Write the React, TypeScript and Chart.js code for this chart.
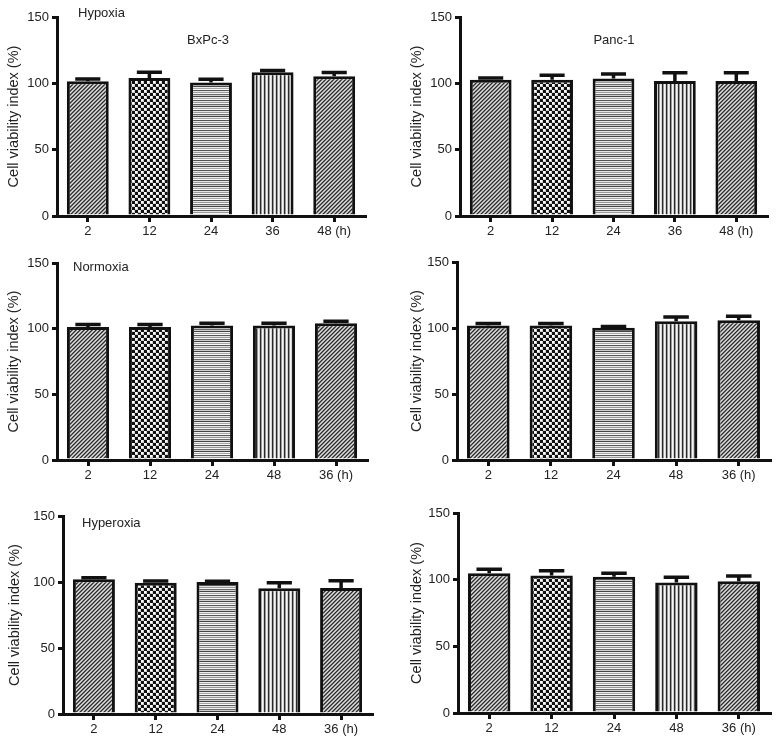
import React, { useEffect, useRef } from "react";
import { Chart, registerables } from "chart.js";
Chart.register(...registerables);

// ---------- data ----------
const labelsTop = ["2", "12", "24", "36", "48 (h)"];
const labelsLower = ["2", "12", "24", "48", "36 (h)"];

const hypoxiaBxPc3 = [101.6, 104.1, 100.6, 108.4, 105.3];
const hypoxiaBxPc3Err = [1.7, 4.3, 2.4, 1.2, 2.8];
const hypoxiaPanc1 = [102.7, 102.7, 103.7, 101.7, 101.7];
const hypoxiaPanc1Err = [1.3, 3.3, 3.3, 6.3, 6.3];

const normoxiaBxPc3 = [101.3, 101.3, 102.4, 102.4, 104.1];
const normoxiaBxPc3Err = [1.8, 1.8, 1.7, 1.7, 1.5];
const normoxiaPanc1 = [101.8, 101.8, 100.1, 105.1, 105.9];
const normoxiaPanc1Err = [1.6, 1.6, 1.0, 3.3, 3.0];

const hyperoxiaBxPc3 = [102.0, 99.5, 100.0, 95.2, 95.5];
const hyperoxiaBxPc3Err = [1.3, 1.3, 0.5, 4.3, 5.5];
const hyperoxiaPanc1 = [104.8, 103.1, 102.1, 97.8, 98.8];
const hyperoxiaPanc1Err = [3.1, 3.5, 2.7, 4.0, 4.0];

const yTitle = "Cell viability index (%)";
const patternOrder = ["diag", "dots", "hstripe", "vstripe", "diag"];

const FONT = "'Liberation Sans', Arial, Helvetica, sans-serif";
const INK = "#111";
const TXT = "#222";

// ---------- patterns ----------
function makePattern(ctx: CanvasRenderingContext2D, kind: string): CanvasPattern | string {
  const t = document.createElement("canvas");
  const c = t.getContext("2d")!;
  if (kind === "diag") {
    t.width = 4; t.height = 4;
    for (let x = 0; x < 4; x++) for (let y = 0; y < 4; y++) {
      const k = (x + y) % 4;
      c.fillStyle = k === 0 ? "#2e2e2e" : k === 1 ? "#707070" : k === 2 ? "#dcdcdc" : "#ababab";
      c.fillRect(x, y, 1, 1);
    }
  } else if (kind === "dots") {
    t.width = 6; t.height = 6;
    c.fillStyle = "#111"; c.fillRect(0, 0, 6, 6);
    c.fillStyle = "#d0d0d0"; c.fillRect(0, 0, 3, 3); c.fillRect(3, 3, 3, 3);
    c.fillStyle = "#fff"; c.fillRect(0, 0, 2, 2); c.fillRect(3, 3, 2, 2);
  } else if (kind === "hstripe") {
    const rows = ["#555", "#e4e4e4", "#999", "#f4f4f4", "#6a6a6a", "#cfcfcf", "#444", "#eeeeee", "#a5a5a5", "#fafafa"];
    t.width = 1; t.height = rows.length;
    rows.forEach((col, i) => { c.fillStyle = col; c.fillRect(0, i, 1, 1); });
  } else {
    const cols = ["#2a2a2a", "#9a9a9a", "#f6f6f6", "#d4d4d4"];
    t.width = cols.length; t.height = 1;
    cols.forEach((col, i) => { c.fillStyle = col; c.fillRect(i, 0, 1, 1); });
  }
  return ctx.createPattern(t, "repeat") || "#888";
}

// ---------- plugins ----------
const errorBarPlugin = {
  id: "errBars",
  afterDatasetsDraw(chart: any, _args: any, opts: any) {
    const errs: number[] = opts.errors;
    if (!errs) return;
    const ctx = chart.ctx;
    const meta = chart.getDatasetMeta(0);
    const ys = chart.scales.y;
    const vals = chart.data.datasets[0].data as number[];
    ctx.save();
    ctx.strokeStyle = INK;
    ctx.lineWidth = 3.5;
    meta.data.forEach((bar: any, i: number) => {
      const x = bar.x;
      const y0 = ys.getPixelForValue(vals[i]);
      const y1 = ys.getPixelForValue(vals[i] + errs[i]);
      const capW = bar.width * 0.6;
      ctx.beginPath();
      ctx.moveTo(x, y0);
      ctx.lineTo(x, y1);
      ctx.moveTo(x - capW / 2, y1);
      ctx.lineTo(x + capW / 2, y1);
      ctx.stroke();
    });
    ctx.restore();
  },
};

const panelTextPlugin = {
  id: "panelText",
  afterDraw(chart: any, _args: any, opts: any) {
    const texts = opts.texts || [];
    const ctx = chart.ctx;
    ctx.save();
    ctx.fillStyle = TXT;
    ctx.font = `13px ${FONT}`;
    ctx.textBaseline = "middle";
    texts.forEach((t: any) => {
      ctx.textAlign = t.align || "left";
      ctx.fillText(t.text, t.x, t.y);
    });
    ctx.restore();
  },
};

// ---------- panels ----------
type PanelCfg = {
  left: number; top: number; width: number; height: number;
  padTop: number; padRight: number; yW: number; xH: number; titlePad: number;
  labels: string[]; values: number[]; errors: number[];
  texts: { text: string; x: number; y: number; align?: string }[];
};

const panels: PanelCfg[] = [
  { left: 0, top: 0, width: 390, height: 245, padTop: 17, padRight: 25, yW: 57, xH: 29, titlePad: 5,
    labels: labelsTop, values: hypoxiaBxPc3, errors: hypoxiaBxPc3Err,
    texts: [{ text: "Hypoxia", x: 78, y: 13 }, { text: "BxPc-3", x: 208, y: 40, align: "center" }] },
  { left: 390, top: 0, width: 389, height: 245, padTop: 17, padRight: 12, yW: 70, xH: 29, titlePad: 18,
    labels: labelsTop, values: hypoxiaPanc1, errors: hypoxiaPanc1Err,
    texts: [{ text: "Panc-1", x: 224, y: 40, align: "center" }] },
  { left: 0, top: 245, width: 390, height: 250, padTop: 18, padRight: 23, yW: 57, xH: 35, titlePad: 5,
    labels: labelsLower, values: normoxiaBxPc3, errors: normoxiaBxPc3Err,
    texts: [{ text: "Normoxia", x: 73, y: 22 }] },
  { left: 390, top: 245, width: 389, height: 250, padTop: 17, padRight: 9, yW: 67, xH: 35, titlePad: 18,
    labels: labelsLower, values: normoxiaPanc1, errors: normoxiaPanc1Err, texts: [] },
  { left: 0, top: 495, width: 390, height: 252, padTop: 21, padRight: 18, yW: 63, xH: 33, titlePad: 6,
    labels: labelsLower, values: hyperoxiaBxPc3, errors: hyperoxiaBxPc3Err,
    texts: [{ text: "Hyperoxia", x: 82, y: 28 }] },
  { left: 390, top: 495, width: 389, height: 252, padTop: 18, padRight: 9, yW: 68, xH: 34, titlePad: 18,
    labels: labelsLower, values: hyperoxiaPanc1, errors: hyperoxiaPanc1Err, texts: [] },
];

function Panel({ cfg }: { cfg: PanelCfg }) {
  const ref = useRef<HTMLCanvasElement>(null);
  useEffect(() => {
    const canvas = ref.current!;
    const ctx = canvas.getContext("2d")!;
    const patterns = patternOrder.map((k) => makePattern(ctx, k));
    const gridOpts = (len: number) => ({
      display: true, drawOnChartArea: false, drawTicks: true, tickLength: len,
      lineWidth: 3, color: INK,
    });
    const chart = new Chart(ctx, {
      type: "bar",
      data: {
        labels: cfg.labels,
        datasets: [{
          data: cfg.values,
          backgroundColor: patterns as any,
          borderColor: INK,
          borderWidth: 3,
          barPercentage: 0.68,
          categoryPercentage: 1,
        }],
      },
      plugins: [errorBarPlugin, panelTextPlugin],
      options: {
        animation: false,
        responsive: false,
        devicePixelRatio: 1,
        layout: { padding: { top: cfg.padTop, right: cfg.padRight, left: 0, bottom: 0 } },
        plugins: {
          legend: { display: false },
          tooltip: { enabled: false },
          errBars: { errors: cfg.errors },
          panelText: { texts: cfg.texts },
        } as any,
        scales: {
          x: {
            type: "category",
            offset: true,
            grid: { ...gridOpts(6), offset: false } as any,
            border: { display: true, width: 3, color: INK },
            ticks: { color: TXT, font: { family: FONT, size: 13 }, padding: 2, maxRotation: 0, autoSkip: false },
            afterFit: (s: any) => { s.height = cfg.xH; },
          },
          y: {
            min: 0, max: 150,
            ticks: { stepSize: 50, color: TXT, font: { family: FONT, size: 13 }, padding: 3 },
            grid: gridOpts(5) as any,
            border: { display: true, width: 3, color: INK },
            title: { display: true, text: yTitle, color: TXT, font: { family: FONT, size: 14.5 }, padding: { top: cfg.titlePad, bottom: 0 } },
            afterFit: (s: any) => { s.width = cfg.yW; },
          },
        },
      },
    });
    return () => chart.destroy();
  }, [cfg]);
  return (
    <canvas
      ref={ref}
      width={cfg.width}
      height={cfg.height}
      style={{ position: "absolute", left: cfg.left, top: cfg.top, width: cfg.width, height: cfg.height }}
    />
  );
}

export default function App() {
  return (
    <div style={{ position: "absolute", left: 0, top: 0, width: 779, height: 747, background: "#fff" }}>
      {panels.map((p, i) => <Panel key={i} cfg={p} />)}
    </div>
  );
}
